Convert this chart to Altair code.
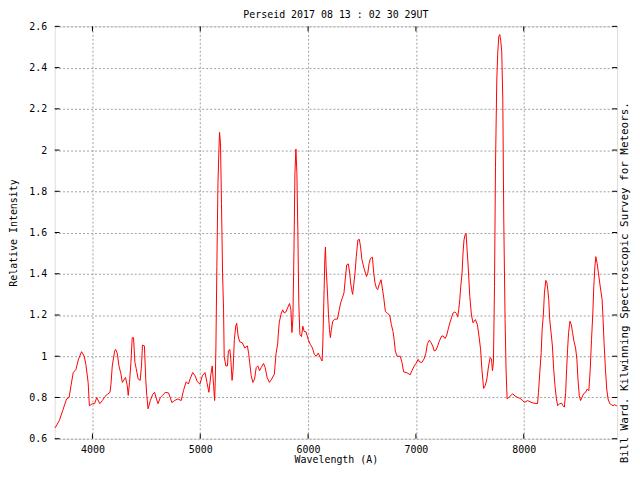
import altair as alt
import pandas as pd

# Spectrum
wavelength = [
    3650, 3657, 3693, 3724, 3760, 3784, 3801, 3822, 3846, 3871, 3899, 3924, 3939, 3960, 3972,
    4000, 4020, 4040, 4068, 4092, 4116, 4138, 4163, 4172, 4184, 4206, 4215, 4230, 4246, 4264,
    4277, 4292, 4307, 4323, 4332, 4344, 4357, 4369, 4381, 4394, 4406, 4424, 4443, 4455, 4464,
    4482, 4495, 4504, 4516, 4537, 4559, 4577, 4590, 4608, 4630, 4651, 4675, 4706, 4721, 4737,
    4761, 4792, 4823, 4844, 4869, 4890, 4906, 4930, 4952, 4973, 4997, 5019, 5044, 5062, 5080,
    5099, 5111, 5124, 5133, 5139, 5145, 5154, 5164, 5173, 5179, 5188, 5197, 5207, 5216, 5222,
    5237, 5252, 5261, 5274, 5283, 5295, 5304, 5316, 5329, 5338,
    5351, 5366, 5391, 5412, 5437, 5449, 5458, 5473, 5488, 5504, 5519, 5534, 5550, 5565, 5587,
    5602, 5620, 5642, 5663, 5687, 5703, 5718, 5724, 5733, 5749, 5764, 5779, 5795, 5810, 5828,
    5841, 5850, 5859, 5869, 5878, 5887, 5896, 5905, 5914, 5924, 5939, 5951, 5964, 5982, 6002,
    6020, 6041, 6057, 6075, 6094, 6112, 6130, 6136, 6143, 6149, 6155, 6161, 6167, 6180, 6189,
    6198, 6207, 6216, 6229, 6247, 6272, 6287, 6303, 6318, 6333, 6346, 6358, 6373, 6386, 6395,
    6404, 6413, 6422, 6435, 6447, 6462, 6475, 6487, 6499, 6511, 6523, 6542, 6554, 6566, 6579,
    6597, 6609, 6621, 6634, 6646, 6658, 6677,
    6702, 6717, 6738, 6757, 6772, 6788, 6800, 6809, 6825, 6855, 6871, 6886, 6917, 6947, 6963,
    6985, 7003, 7021, 7034, 7055, 7076, 7092, 7107, 7125, 7140, 7156, 7171, 7186, 7202, 7217,
    7239, 7254, 7269, 7284, 7299, 7315, 7330, 7345, 7361, 7376, 7388, 7397, 7407, 7416, 7428,
    7437, 7446, 7456, 7465,
    7484, 7500, 7515, 7530, 7552, 7570, 7585, 7600, 7612, 7628, 7643, 7658, 7674, 7689, 7701,
    7710, 7719, 7729, 7738, 7750, 7759, 7769, 7778, 7787, 7796, 7806, 7815, 7827, 7836, 7846,
    7861, 7882, 7898, 7919, 7944, 7965, 7990, 8005, 8021, 8036, 8067, 8097, 8128, 8137, 8149,
    8162, 8171, 8183, 8192, 8205, 8214, 8223, 8232, 8241, 8254, 8266, 8278, 8290, 8303, 8315,
    8333, 8352, 8364, 8377, 8389, 8398, 8407, 8416, 8429, 8441, 8453, 8466, 8481, 8493, 8503,
    8515, 8527, 8540, 8555, 8574, 8589, 8604, 8617, 8629, 8641, 8650, 8660, 8669, 8681, 8693,
    8705, 8718, 8727, 8736, 8745, 8758, 8770, 8782, 8798, 8813, 8828, 8844, 8859, 8866,
]
intensity = [
    0.652, 0.656, 0.688, 0.736, 0.793, 0.800, 0.857, 0.921, 0.935, 0.986, 1.022, 1.000, 0.960, 0.873, 0.760,
    0.770, 0.770, 0.800, 0.770, 0.785, 0.805, 0.815, 0.825, 0.865, 0.953, 1.025, 1.033, 1.015, 0.953, 0.915,
    0.873, 0.885, 0.897, 0.857, 0.810, 0.873, 0.970, 1.090, 1.090, 0.970, 0.940, 0.890, 0.883, 0.953, 1.054,
    1.050, 0.883, 0.810, 0.745, 0.785, 0.815, 0.825, 0.800, 0.770, 0.800, 0.810, 0.825, 0.822, 0.800, 0.775,
    0.785, 0.793, 0.785, 0.833, 0.876, 0.865, 0.890, 0.921, 0.905, 0.876, 0.865, 0.905, 0.921, 0.873, 0.825,
    0.913, 0.953, 0.857, 0.785, 0.873, 1.040, 1.435, 1.837, 1.998, 2.086, 2.030, 1.740, 1.400, 1.225, 1.000,
    0.953, 0.953, 1.025, 1.033, 0.986, 0.883, 0.930, 1.080, 1.146, 1.160,
    1.098, 1.070, 1.065, 1.040, 1.050, 1.013, 0.970, 0.905, 0.873, 0.890, 0.945, 0.953, 0.930, 0.945, 0.965,
    0.945, 0.897, 0.873, 0.890, 0.913, 1.013, 1.060, 1.110, 1.165, 1.204, 1.225, 1.210, 1.215, 1.235, 1.256,
    1.225, 1.115, 1.180, 1.507, 1.885, 2.005, 1.892, 1.610, 1.257, 1.105, 1.095, 1.146, 1.120, 1.118, 1.080,
    1.058, 1.040, 1.010, 1.000, 1.015, 0.995, 0.977, 1.050, 1.195, 1.330, 1.467, 1.530, 1.435, 1.307, 1.204,
    1.130, 1.090, 1.130, 1.170, 1.180, 1.180, 1.220, 1.260, 1.283, 1.307, 1.380, 1.443, 1.448, 1.403, 1.355,
    1.323, 1.300, 1.340, 1.403, 1.483, 1.564, 1.567, 1.530, 1.470, 1.443, 1.419, 1.387, 1.403, 1.450, 1.475,
    1.480, 1.403, 1.355, 1.330, 1.323, 1.346, 1.371,
    1.283, 1.218, 1.207, 1.200, 1.154, 1.120, 1.073, 1.025, 1.000, 1.000, 0.970, 0.924, 0.920, 0.910, 0.930,
    0.953, 0.966, 0.985, 0.972, 0.970, 0.987, 1.014, 1.061, 1.078, 1.066, 1.050, 1.025, 1.030, 1.050, 1.073,
    1.098, 1.098, 1.086, 1.098, 1.130, 1.162, 1.186, 1.210, 1.215, 1.207, 1.190, 1.226, 1.275, 1.339, 1.402,
    1.500, 1.564, 1.588, 1.596,
    1.443, 1.290, 1.200, 1.162, 1.178, 1.154, 1.098, 1.034, 0.937, 0.844, 0.857, 0.889, 0.953, 0.994, 0.986,
    0.930, 0.970, 1.339, 1.917, 2.335, 2.471, 2.552, 2.560, 2.530, 2.480, 2.247, 1.660, 1.178, 0.937, 0.793,
    0.800, 0.810, 0.818, 0.807, 0.800, 0.796, 0.785, 0.777, 0.780, 0.785, 0.777, 0.772, 0.770, 0.825, 0.921,
    1.018, 1.130, 1.210, 1.307, 1.368, 1.360, 1.323, 1.275, 1.178, 1.114, 1.050, 0.937, 0.857, 0.793, 0.760,
    0.770, 0.772, 0.760, 0.753, 0.825, 0.937, 1.034, 1.114, 1.170, 1.154, 1.114, 1.073, 1.040, 0.986, 0.889,
    0.810, 0.785, 0.800, 0.818, 0.825, 0.841, 0.833, 0.937, 1.082, 1.210, 1.339, 1.435, 1.483, 1.450, 1.403,
    1.355, 1.307, 1.275, 1.178, 1.066, 0.937, 0.841, 0.793, 0.770, 0.765, 0.760, 0.765, 0.760, 0.760,
]

x_ticks = [4000, 5000, 6000, 7000, 8000]
y_ticks = [0.6, 0.8, 1.0, 1.2, 1.4, 1.6, 1.8, 2.0, 2.2, 2.4, 2.6]

title_text = "Perseid 2017 08 13 : 02 30 29UT"
x_title = "Wavelength (A)"
y_title = "Relative Intensity"
credit = "Bill Ward. Kilwinning Spectroscopic Survey for Meteors."

W, H = 566, 415
FONT = "DejaVu Sans Mono"

df = pd.DataFrame({"w": wavelength, "v": intensity})
xt = pd.DataFrame({"w": x_ticks})
yt = pd.DataFrame({"v": y_ticks})

xscale = alt.Scale(domain=[3650, 8866], nice=False, zero=False)
yscale = alt.Scale(domain=[0.6, 2.6], nice=False, zero=False)

xaxis = alt.Axis(values=x_ticks, format="d", title=x_title, grid=True,
                 gridDash=[2, 2], gridColor="#a0a0a0", gridWidth=1,
                 ticks=False, tickSize=0, domain=False, labelPadding=6,
                 labelFont=FONT, labelFontSize=10, labelColor="black",
                 titleFont=FONT, titleFontSize=10, titleFontWeight="normal",
                 titleColor="black", titlePadding=0)
yaxis = alt.Axis(values=y_ticks, format="~g", title=y_title, grid=True,
                 gridDash=[2, 2], gridColor="#a0a0a0", gridWidth=1,
                 ticks=False, tickSize=0, domain=False, labelPadding=8,
                 labelFont=FONT, labelFontSize=10, labelColor="black",
                 titleFont=FONT, titleFontSize=10, titleFontWeight="normal",
                 titleColor="black", titlePadding=10)

line = alt.Chart(df).mark_line(color="#ff0000", strokeWidth=1).encode(
    x=alt.X("w:Q", scale=xscale, axis=xaxis),
    y=alt.Y("v:Q", scale=yscale, axis=yaxis),
)

tick_style = dict(color="black", strokeWidth=1)
left_ticks = alt.Chart(yt).mark_rule(**tick_style).encode(
    y=alt.Y("v:Q", scale=yscale), x=alt.value(0), x2=alt.value(5))
right_ticks = alt.Chart(yt).mark_rule(**tick_style).encode(
    y=alt.Y("v:Q", scale=yscale), x=alt.value(W - 5), x2=alt.value(W))
bottom_ticks = alt.Chart(xt).mark_rule(**tick_style).encode(
    x=alt.X("w:Q", scale=xscale), y=alt.value(H - 5), y2=alt.value(H))
top_ticks = alt.Chart(xt).mark_rule(**tick_style).encode(
    x=alt.X("w:Q", scale=xscale), y=alt.value(0), y2=alt.value(5))

credit_mark = alt.Chart(pd.DataFrame({"t": [credit]})).mark_text(
    font=FONT, fontSize=11, angle=270, align="center", baseline="middle",
    color="black").encode(text="t:N", x=alt.value(W + 8), y=alt.value(258))

chart = alt.layer(line, left_ticks, right_ticks, bottom_ticks, top_ticks, credit_mark).properties(
    width=W, height=H,
    title=alt.TitleParams(title_text, font=FONT, fontSize=10, fontWeight="normal",
                          color="black", anchor="middle", offset=1, frame="group"),
    autosize=alt.AutoSizeParams(type="none"),
    padding={"left": 47, "top": 17, "right": 15, "bottom": 26},
).configure_view(stroke="black", strokeWidth=1).configure(background="white")

chart.save("out.html", embed_options={"renderer": "svg", "actions": False})
